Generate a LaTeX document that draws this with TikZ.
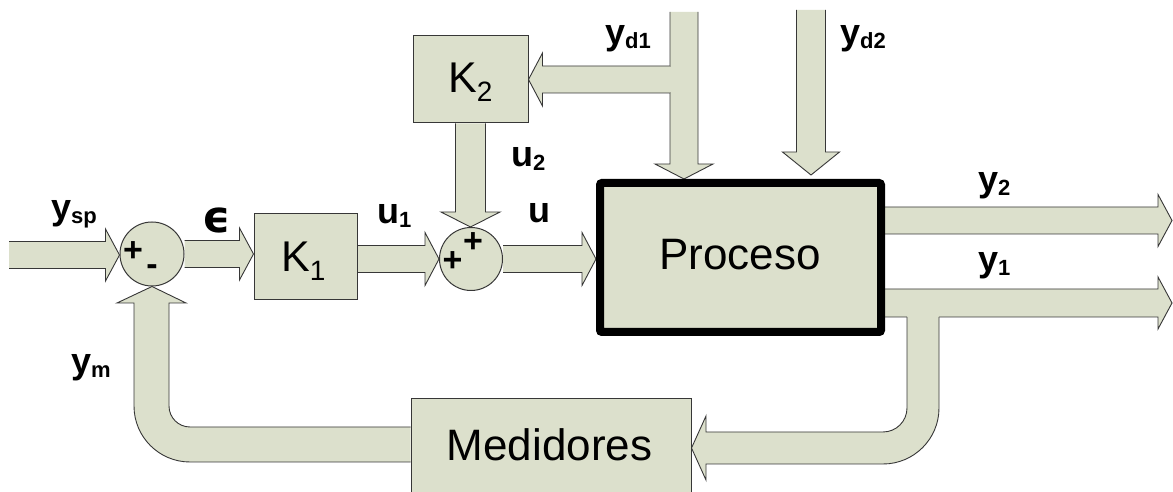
\documentclass[tikz,border=0pt]{standalone}
\usepackage{fontspec}
\setmainfont{Liberation Sans}
\newfontfamily\dvs{DejaVu Sans}
\usetikzlibrary{calc}
\definecolor{blk}{RGB}{220,224,204}
\definecolor{edge}{RGB}{55,55,55}
\pgfdeclarelayer{back}
\pgfdeclarelayer{bg}
\pgfsetlayers{back,bg,main}
\tikzset{
  blkedge/.style={draw=edge, line width=0.9pt, line join=miter},
  box/.style={draw=edge, fill=blk, line width=1pt, inner sep=0pt},
  sumnode/.style={circle, draw=edge, fill=blk, line width=1pt, minimum size=64pt, inner sep=0pt},
  lab/.style={inner sep=0pt, anchor=base west},
  sgn/.style={inner sep=0pt, font=\bfseries\fontsize{34}{34}\selectfont},
}
\newcommand{\lbl}[2]{\bfseries\fontsize{36}{36}\selectfont #1\raisebox{-4pt}{\fontsize{22}{22}\selectfont #2}}
\newcommand{\kbl}[1]{\fontsize{43}{43}\selectfont K\raisebox{-9pt}{\fontsize{28}{28}\selectfont #1}}
% block arrow pointing right: #1 tail, #2 tip, #3 shaft half width, #4 head half width, #5 head length
\newcommand{\blkR}[5]{%
  \fill[blk] let \p1=(#1),\p2=(#2) in (\x1,\y1+#3pt) -- (\x2-#5pt,\y1+#3pt) -- (\x2-#5pt,\y1+#4pt) -- (\x2,\y1) -- (\x2-#5pt,\y1-#4pt) -- (\x2-#5pt,\y1-#3pt) -- (\x1,\y1-#3pt) -- cycle;
  \draw[blkedge] let \p1=(#1),\p2=(#2) in (\x1,\y1+#3pt) -- (\x2-#5pt,\y1+#3pt) -- (\x2-#5pt,\y1+#4pt) -- (\x2,\y1) -- (\x2-#5pt,\y1-#4pt) -- (\x2-#5pt,\y1-#3pt) -- (\x1,\y1-#3pt);}
\newcommand{\blkL}[5]{%
  \fill[blk] let \p1=(#1),\p2=(#2) in (\x1,\y1+#3pt) -- (\x2+#5pt,\y1+#3pt) -- (\x2+#5pt,\y1+#4pt) -- (\x2,\y1) -- (\x2+#5pt,\y1-#4pt) -- (\x2+#5pt,\y1-#3pt) -- (\x1,\y1-#3pt) -- cycle;
  \draw[blkedge] let \p1=(#1),\p2=(#2) in (\x1,\y1+#3pt) -- (\x2+#5pt,\y1+#3pt) -- (\x2+#5pt,\y1+#4pt) -- (\x2,\y1) -- (\x2+#5pt,\y1-#4pt) -- (\x2+#5pt,\y1-#3pt) -- (\x1,\y1-#3pt);}
\newcommand{\blkD}[5]{%
  \fill[blk] let \p1=(#1),\p2=(#2) in (\x1+#3pt,\y1) -- (\x1+#3pt,\y2+#5pt) -- (\x1+#4pt,\y2+#5pt) -- (\x1,\y2) -- (\x1-#4pt,\y2+#5pt) -- (\x1-#3pt,\y2+#5pt) -- (\x1-#3pt,\y1) -- cycle;
  \draw[blkedge] let \p1=(#1),\p2=(#2) in (\x1+#3pt,\y1) -- (\x1+#3pt,\y2+#5pt) -- (\x1+#4pt,\y2+#5pt) -- (\x1,\y2) -- (\x1-#4pt,\y2+#5pt) -- (\x1-#3pt,\y2+#5pt) -- (\x1-#3pt,\y1);}
\begin{document}
\begin{tikzpicture}[x=1pt,y=1pt]
\useasboundingbox (0,0) rectangle (1173,492);
\begin{pgfonlayer}{back}
  \fill[white] (0,0) rectangle (1173,492);
\end{pgfonlayer}
\clip (0,0) rectangle (1173,492);

% ---- blocks ----
\node[sumnode] (s1) at (152,238) {};
\node[sumnode, minimum size=63pt] (s2) at (471,233) {};
\node[box, minimum width=103pt, minimum height=86pt] (K1) at (305.5,235) {};
\node[box, minimum width=115pt, minimum height=87pt] (K2) at (470.5,412.5) {};
\node[draw=black, fill=blk, line width=8pt, rounded corners=2pt, inner sep=0pt,
      minimum width=281pt, minimum height=149pt] (P) at (740.5,234.5) {};
\node[box, minimum width=280pt, minimum height=103pt] (M) at (551,41.5) {};

% texts in blocks
\node[lab] (tK1) at (281,220) {\kbl{1}};
\node[lab] (tK2) at (448,399) {\kbl{2}};
\node[inner sep=0pt, anchor=base, font=\fontsize{44}{44}\selectfont] (tP) at (740,222) {Proceso};
\node[inner sep=0pt, anchor=base, font=\fontsize{44}{44}\selectfont] (tM) at (549.5,31) {Medidores};

% signs
\node[sgn] (p1) at (133,240) {+};
\node[sgn] (m1) at (152,222) {-};
\node[sgn] (p2a) at (473,249) {+};
\node[sgn] (p2b) at (452.5,230.5) {+};

% labels
\node[lab] (lysp) at (51,272) {\lbl{y}{sp}};
\node[inner sep=0pt, font=\dvs\bfseries\fontsize{44}{44}\selectfont] (leps) at (216.5,272) {ϵ};
\node[lab] (lu1) at (377,268) {\lbl{u}{1}};
\node[lab] (lu) at (528,269) {\lbl{u}{}};
\node[lab] (lu2) at (511,325) {\lbl{u}{2}};
\node[lab] (lyd1) at (605,447) {\lbl{y}{d1}};
\node[lab] (lyd2) at (840,447) {\lbl{y}{d2}};
\node[lab] (ly2) at (978,300) {\lbl{y}{2}};
\node[lab] (ly1) at (978,220) {\lbl{y}{1}};
\node[lab] (lym) at (71,118) {\lbl{y}{m}};

% free ends
\coordinate (ysp0) at (9,237);
\coordinate (yd1top) at (684,480);
\coordinate (yd2top) at (811,482);
\coordinate (yd1j) at (670,412.5);
\coordinate (y2tip) at (1172,271.5);
\coordinate (y1tip) at (1172,189);

% ---- block arrows ----
\begin{pgfonlayer}{bg}
  \blkR{ysp0}{s1.west}{13.5}{26}{14}
  \blkR{s1.east}{K1.west}{13.5}{26}{14}
  \blkR{K1.east |- s2}{s2.west}{13.5}{26.5}{14}
  \blkR{s2.east}{P.west}{13.5}{26.5}{14}
  \blkD{K2.south}{s2.north}{15}{29.5}{15}
  \blkD{yd1top}{P.north -| yd1top}{14}{29}{15}
  \blkD{yd2top}{$(P.north -| yd2top)+(0,4)$}{14.5}{28.5}{23}
  \blkL{yd1j}{K2.east}{13.5}{26.5}{14}
  \fill[blk] (668,399.6) rectangle (676,425.4);
  \blkR{P.east |- y2tip}{y2tip}{13.5}{26}{14}
  \blkR{P.east |- y1tip}{y1tip}{14}{26}{14}
  % feedback from y1 to Medidores
  \fill[blk] (907,189) -- (907,84) arc[start angle=0,end angle=-90,radius=24] -- (706,60) -- (706,76) -- (M.east |- 0,44) -- (706,12) -- (706,28) -- (883,28) arc[start angle=-90,end angle=0,radius=56] -- (939,189) -- cycle;
  \draw[blkedge] (907,175) -- (907,84) arc[start angle=0,end angle=-90,radius=24] -- (706,60) -- (706,76) -- (M.east |- 0,44) -- (706,12) -- (706,28) -- (883,28) arc[start angle=-90,end angle=0,radius=56] -- (939,175);
  % feedback from Medidores to summing junction
  \fill[blk] (M.west |- 0,65) -- (190,65) arc[start angle=-90,end angle=-180,radius=21] -- (169,189) -- (186,189) -- (s1.south) -- (117,189) -- (134,189) -- (134,86) arc[start angle=180,end angle=270,radius=56] -- (M.west |- 0,30) -- cycle;
  \draw[blkedge] (M.west |- 0,65) -- (190,65) arc[start angle=-90,end angle=-180,radius=21] -- (169,189) -- (186,189) -- (s1.south) -- (117,189) -- (134,189) -- (134,86) arc[start angle=180,end angle=270,radius=56] -- (M.west |- 0,30);
\end{pgfonlayer}
\end{tikzpicture}
\end{document}
